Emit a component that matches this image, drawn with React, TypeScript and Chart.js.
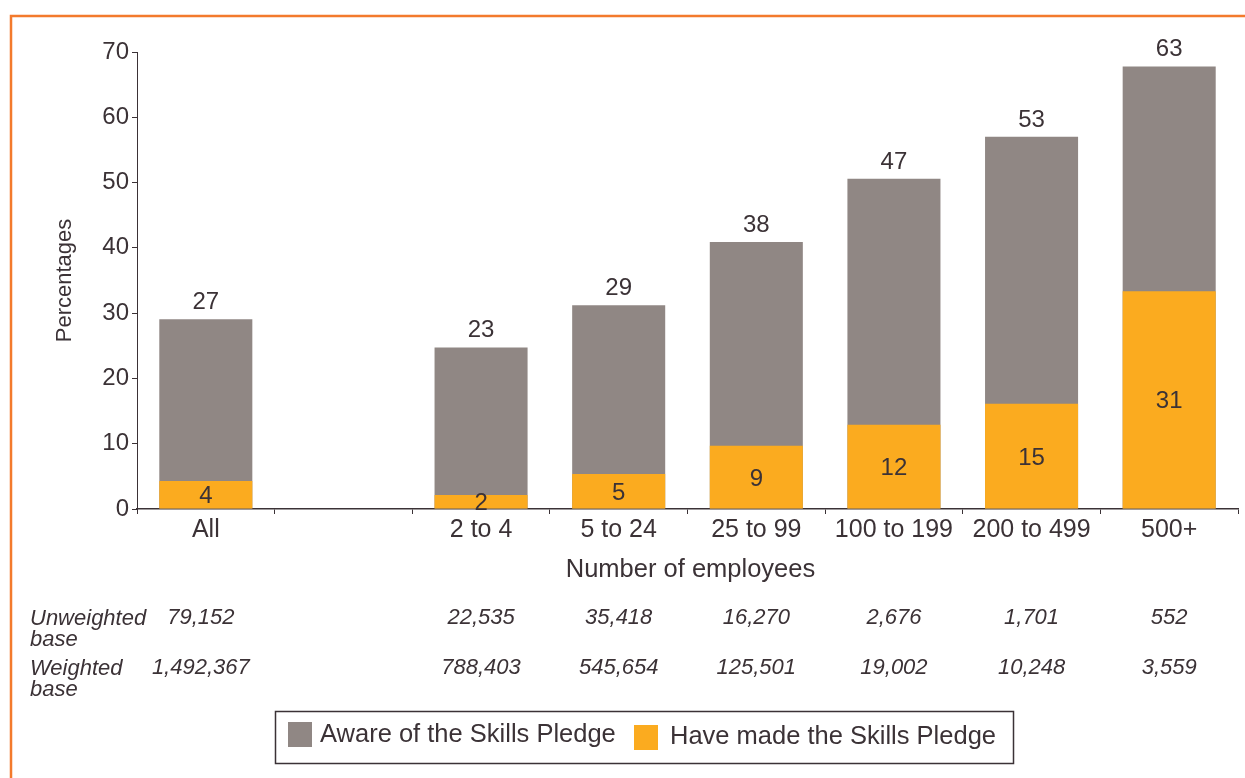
import React, { useEffect, useRef } from 'react';
import { Chart, registerables } from 'chart.js';

Chart.register(...registerables);

const categories = ['All', '', '2 to 4', '5 to 24', '25 to 99', '100 to 199', '200 to 499', '500+'];
const awareValues = [27, null, 23, 29, 38, 47, 53, 63];
const madeValues = [4, null, 2, 5, 9, 12, 15, 31];
const unweightedBase = ['79,152', '', '22,535', '35,418', '16,270', '2,676', '1,701', '552'];
const weightedBase = ['1,492,367', '', '788,403', '545,654', '125,501', '19,002', '10,248', '3,559'];
const yTickLabels = [0, 10, 20, 30, 40, 50, 60, 70];
const seriesNames = ['Aware of the Skills Pledge', 'Have made the Skills Pledge'];
// the printed value axis is stretched relative to the labelled values
const AXIS_SCALE = 1.076;

const GRAY = '#908784';
const ORANGE = '#fbab1f';
const TEXT = '#3b3236';
const FRAME = '#f37a2c';
const FONT = '"Liberation Sans", Arial, sans-serif';

export default function App() {
  const ref = useRef<HTMLCanvasElement>(null);

  useEffect(() => {
    if (!ref.current) return;

    const framePlugin = {
      id: 'frame',
      beforeDraw(chart: any) {
        const ctx = chart.ctx;
        ctx.save();
        ctx.fillStyle = '#ffffff';
        ctx.fillRect(0, 0, chart.width, chart.height);
        ctx.strokeStyle = FRAME;
        ctx.lineWidth = 2.5;
        ctx.beginPath();
        ctx.moveTo(11, chart.height);
        ctx.lineTo(11, 16);
        ctx.lineTo(chart.width, 16);
        ctx.stroke();
        ctx.restore();
      },
    };

    const labelPlugin = {
      id: 'barLabels',
      afterDatasetsDraw(chart: any) {
        const ctx = chart.ctx;
        ctx.save();
        ctx.font = `24px ${FONT}`;
        ctx.fillStyle = TEXT;
        ctx.textAlign = 'center';
        const awareMeta = chart.getDatasetMeta(0);
        const madeMeta = chart.getDatasetMeta(1);
        awareMeta.data.forEach((bar: any, i: number) => {
          if (awareValues[i] == null) return;
          ctx.textBaseline = 'alphabetic';
          ctx.fillText(String(awareValues[i]), bar.x, bar.y - 10);
        });
        madeMeta.data.forEach((bar: any, i: number) => {
          if (madeValues[i] == null) return;
          ctx.textBaseline = 'middle';
          ctx.fillText(String(madeValues[i]), bar.x, (bar.y + bar.base) / 2 + 2);
        });
        ctx.restore();
      },
    };

    const extrasPlugin = {
      id: 'extras',
      afterDraw(chart: any) {
        const ctx = chart.ctx;
        const area = chart.chartArea;
        const xs = chart.scales.x;
        ctx.save();
        ctx.fillStyle = TEXT;
        ctx.textBaseline = 'middle';

        // y title
        ctx.save();
        ctx.font = `22px ${FONT}`;
        ctx.translate(65, (area.top + area.bottom) / 2);
        ctx.rotate(-Math.PI / 2);
        ctx.textAlign = 'center';
        ctx.fillText('Percentages', 0, 0);
        ctx.restore();

        // x title
        ctx.font = `25.5px ${FONT}`;
        ctx.textAlign = 'center';
        ctx.fillText('Number of employees', (area.left + area.right) / 2 + 3, 570);

        // base table
        ctx.font = `italic 22px ${FONT}`;
        ctx.textAlign = 'left';
        ctx.fillText('Unweighted', 30, 619);
        ctx.fillText('base', 30, 640);
        ctx.fillText('Weighted', 30, 669);
        ctx.fillText('base', 30, 690);
        ctx.textAlign = 'center';
        categories.forEach((_, i) => {
          const x = xs.getPixelForValue(i) - (i === 0 ? 5 : 0);
          if (unweightedBase[i]) ctx.fillText(unweightedBase[i], x, 618);
          if (weightedBase[i]) ctx.fillText(weightedBase[i], x, 668);
        });

        // legend
        ctx.strokeStyle = TEXT;
        ctx.lineWidth = 1.5;
        ctx.strokeRect(275.5, 711.5, 738, 52);
        ctx.font = `25.5px ${FONT}`;
        ctx.textAlign = 'left';
        ctx.fillStyle = GRAY;
        ctx.fillRect(288, 722, 24, 25);
        ctx.fillStyle = TEXT;
        ctx.fillText(seriesNames[0], 320, 735);
        ctx.fillStyle = ORANGE;
        ctx.fillRect(634, 725, 24, 25);
        ctx.fillStyle = TEXT;
        ctx.fillText(seriesNames[1], 670, 737);
        ctx.restore();
      },
    };

    const chart = new Chart(ref.current, {
      type: 'bar',
      data: {
        labels: categories,
        datasets: [
          {
            label: seriesNames[0],
            data: awareValues,
            backgroundColor: GRAY,
            order: 1,
            categoryPercentage: 1,
            barPercentage: 0.676,
          },
          {
            label: seriesNames[1],
            data: madeValues,
            backgroundColor: ORANGE,
            order: 0,
            categoryPercentage: 1,
            barPercentage: 0.676,
          },
        ],
      },
      options: {
        animation: false,
        responsive: false,
        devicePixelRatio: 1,
        layout: { padding: { top: 52, left: 0, right: 7, bottom: 0 } },
        plugins: {
          legend: { display: false },
          tooltip: { enabled: false },
        },
        scales: {
          x: {
            stacked: true,
            z: 1,
            offset: true,
            grid: {
              offset: true,
              drawOnChartArea: false,
              drawTicks: true,
              tickLength: 5,
              color: TEXT,
              lineWidth: 1,
            },
            border: { display: true, color: TEXT, width: 1.5 },
            ticks: {
              color: TEXT,
              font: { family: FONT, size: 25, lineHeight: 1.2 },
              padding: 1,
              maxRotation: 0,
              autoSkip: false,
            },
            afterFit(scale: any) {
              scale.height = 269;
            },
          },
          y: {
            stacked: false,
            min: 0,
            max: 70 / AXIS_SCALE,
            afterBuildTicks(scale: any) {
              scale.ticks = yTickLabels.map((t) => ({ value: t / AXIS_SCALE }));
            },
            grid: {
              drawOnChartArea: false,
              drawTicks: true,
              tickLength: 5,
              color: TEXT,
              lineWidth: 1,
            },
            border: { display: true, color: TEXT, width: 1 },
            ticks: {
              color: TEXT,
              font: { family: FONT, size: 24 },
              padding: 3,
              autoSkip: false,
              callback: (_v: any, i: number) => String(yTickLabels[i]),
            },
            afterFit(scale: any) {
              scale.width = 137;
            },
          },
        },
      },
      plugins: [framePlugin, labelPlugin, extrasPlugin],
    });

    return () => chart.destroy();
  }, []);

  return (
    <div style={{ position: 'absolute', top: 0, left: 0, width: 1245, height: 778, background: '#fff' }}>
      <canvas ref={ref} width={1245} height={778} style={{ display: 'block' }} />
    </div>
  );
}
